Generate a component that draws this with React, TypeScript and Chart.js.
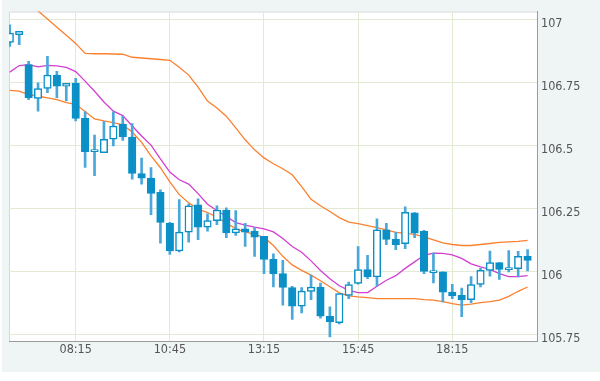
import React, { useEffect, useRef } from 'react';
import { Chart, registerables } from 'chart.js';
Chart.register(...registerables);

const times = ['06:30','06:45','07:00','07:15','07:30','07:45','08:00','08:15','08:30','08:45','09:00','09:15','09:30','09:45','10:00','10:15','10:30','10:45','11:00','11:15','11:30','11:45','12:00','12:15','12:30','12:45','13:00','13:15','13:30','13:45','14:00','14:15','14:30','14:45','15:00','15:15','15:30','15:45','16:00','16:15','16:30','16:45','17:00','17:15','17:30','17:45','18:00','18:15','18:30','18:45','19:00','19:15','19:30','19:45','20:00','20:15'];

const opens = [106.910,106.941,106.822,106.687,106.727,106.780,106.736,106.747,106.608,106.476,106.472,106.525,106.585,106.534,106.389,106.371,106.314,106.191,106.081,106.156,106.265,106.176,106.202,106.244,106.153,106.169,106.160,106.139,106.048,105.991,105.936,105.862,105.921,105.938,105.822,105.796,105.905,105.952,106.007,105.978,106.165,106.127,106.110,106.233,106.159,105.995,105.998,105.918,105.905,105.888,105.948,106.004,106.035,106.007,106.011,106.060];
const highs = [106.980,106.954,106.835,106.749,106.855,106.795,106.747,106.767,106.634,106.542,106.595,106.634,106.617,106.587,106.450,106.413,106.324,106.195,106.285,106.268,106.288,106.229,106.261,106.253,106.242,106.191,106.174,106.139,106.070,106.044,105.941,105.936,105.985,105.954,105.859,105.912,105.958,106.099,106.064,106.209,106.191,106.156,106.257,106.234,106.163,106.073,105.998,105.949,105.934,105.979,106.012,106.081,106.035,106.083,106.080,106.087];
const lows = [106.894,106.901,106.682,106.637,106.710,106.690,106.677,106.598,106.413,106.380,106.472,106.499,106.521,106.367,106.347,106.225,106.112,106.068,106.077,106.116,106.126,106.160,106.186,106.134,106.143,106.099,106.060,105.991,105.938,105.866,105.809,105.835,105.888,105.814,105.740,105.791,105.892,105.949,105.971,105.941,106.106,106.086,106.090,106.134,105.991,105.954,105.879,105.892,105.820,105.876,105.938,105.981,105.968,105.998,105.978,106.002];
const closes = [106.947,106.954,106.690,106.727,106.780,106.736,106.747,106.608,106.476,106.478,106.525,106.578,106.534,106.389,106.371,106.310,106.195,106.081,106.156,106.261,106.176,106.202,106.244,106.153,106.169,106.156,106.136,106.048,105.991,105.936,105.862,105.922,105.938,105.822,105.800,105.912,105.948,106.007,105.978,106.165,106.127,106.106,106.235,106.152,106.000,106.002,105.918,105.903,105.888,105.948,106.004,106.035,106.008,106.015,106.060,106.044];

const upperBand = [107.132,107.100,107.068,107.035,107.003,106.970,106.938,106.906,106.866,106.865,106.865,106.864,106.863,106.851,106.848,106.845,106.842,106.839,106.811,106.780,106.732,106.677,106.649,106.617,106.570,106.523,106.483,106.451,106.428,106.408,106.384,106.337,106.287,106.261,106.238,106.214,106.196,106.190,106.182,106.174,106.165,106.155,106.151,106.147,106.137,106.125,106.113,106.107,106.103,106.103,106.107,106.111,106.115,106.117,106.119,106.123];
const middleBand = [106.792,106.818,106.822,106.813,106.819,106.817,106.811,106.794,106.756,106.716,106.673,106.637,106.619,106.578,106.538,106.502,106.447,106.395,106.364,106.347,106.309,106.267,106.242,106.218,106.194,106.184,106.176,106.169,106.157,106.131,106.099,106.076,106.042,106.004,105.971,105.943,105.925,105.916,105.916,105.941,105.965,105.983,106.012,106.038,106.064,106.073,106.072,106.066,106.052,106.030,106.018,106.008,105.991,105.979,105.979,105.983];
const lowerBand = [106.719,106.716,106.703,106.697,106.690,106.683,106.671,106.664,106.635,106.606,106.598,106.591,106.582,106.554,106.513,106.459,106.412,106.356,106.305,106.273,106.248,106.234,106.216,106.192,106.170,106.157,106.147,106.135,106.103,106.060,106.026,106.004,105.985,105.963,105.939,105.915,105.903,105.899,105.896,105.892,105.892,105.892,105.892,105.892,105.888,105.886,105.880,105.872,105.866,105.870,105.876,105.880,105.886,105.901,105.921,105.938];

const yTicks = [105.75, 106, 106.25, 106.5, 106.75, 107];
const xTickLabels = ['08:15', '10:45', '13:15', '15:45', '18:15'];

const BLUE = '#0a90c7';
const WICK = '#4aa7da';
const ORANGE = '#fb8030';
const MAGENTA = '#d23fd2';
const GRID = '#e3ead3';
const FONT = { family: "'DejaVu Sans Condensed', 'DejaVu Sans', sans-serif", size: 12.5 };

export default function App() {
  const ref = useRef<HTMLCanvasElement>(null);
  useEffect(() => {
    const canvas = ref.current;
    if (!canvas) return;
    const xTickPos = xTickLabels.map((l) => times.indexOf(l));
    const bodyBg = times.map((_, i) => (closes[i] >= opens[i] ? '#ffffff' : BLUE));
    const frame = {
      id: 'frame',
      beforeDraw(chart: any) {
        const { ctx, chartArea: a } = chart;
        ctx.save();
        ctx.fillStyle = '#ffffff';
        ctx.fillRect(a.left, a.top, a.right - a.left, a.bottom - a.top);
        ctx.strokeStyle = '#d3d8d9';
        ctx.lineWidth = 1;
        ctx.beginPath();
        ctx.moveTo(a.left + 0.5, a.bottom);
        ctx.lineTo(a.left + 0.5, a.top + 0.5);
        ctx.lineTo(a.right, a.top + 0.5);
        ctx.stroke();
        ctx.restore();
      },
    };
    const chart = new Chart(canvas, {
      type: 'bar',
      data: {
        datasets: [
          {
            type: 'bar',
            label: 'body',
            data: times.map((_, i) => ({ x: i, y: [opens[i], closes[i]] })) as any,
            backgroundColor: bodyBg,
            borderColor: BLUE,
            borderWidth: 1.5,
            borderSkipped: false,
            barThickness: 7.5,
            minBarLength: 2,
            grouped: false,
            order: 0,
          } as any,
          {
            type: 'bar',
            label: 'wick',
            data: times.map((_, i) => ({ x: i, y: [lows[i], highs[i]] })) as any,
            backgroundColor: WICK,
            borderWidth: 0,
            barThickness: 2,
            grouped: false,
            order: 1,
          } as any,
          {
            type: 'line',
            label: 'upper',
            data: upperBand.map((v, i) => ({ x: i, y: v })),
            borderColor: ORANGE,
            borderWidth: 1.3,
            pointRadius: 0,
            tension: 0,
            clip: 0,
            order: 2,
          } as any,
          {
            type: 'line',
            label: 'middle',
            data: middleBand.map((v, i) => ({ x: i, y: v })),
            borderColor: MAGENTA,
            borderWidth: 1.3,
            pointRadius: 0,
            tension: 0,
            clip: 0,
            order: 2,
          } as any,
          {
            type: 'line',
            label: 'lower',
            data: lowerBand.map((v, i) => ({ x: i, y: v })),
            borderColor: ORANGE,
            borderWidth: 1.3,
            pointRadius: 0,
            tension: 0,
            clip: 0,
            order: 2,
          } as any,
        ],
      },
      options: {
        responsive: false,
        animation: false,
        layout: { padding: { left: 9, top: 10, right: 0, bottom: 0 } },
        plugins: { legend: { display: false }, tooltip: { enabled: false } },
        scales: {
          x: {
            type: 'linear',
            min: -0.085,
            max: 56.0,
            offset: false,
            grid: { offset: false, color: GRID, drawTicks: false },
            border: { display: true, color: '#9b9b9b' },
            afterBuildTicks: (s: any) => {
              s.ticks = xTickPos.map((v) => ({ value: v }));
            },
            afterFit: (s: any) => {
              s.height = 40;
            },
            ticks: {
              autoSkip: false,
              maxRotation: 0,
              padding: 1,
              color: '#555555',
              font: FONT,
              callback: (_v: any, idx: number) => xTickLabels[idx],
            },
          },
          y: {
            type: 'linear',
            position: 'right',
            min: 105.7235,
            max: 107.0328,
            grid: { color: GRID, drawTicks: false },
            border: { display: true, color: '#9b9b9b' },
            afterBuildTicks: (s: any) => {
              s.ticks = yTicks.map((v) => ({ value: v }));
            },
            afterFit: (s: any) => {
              s.width = 63;
            },
            ticks: {
              padding: 4,
              labelOffset: 4,
              color: '#555555',
              font: FONT,
              callback: (v: any) => String(v),
            },
          },
        },
      } as any,
      plugins: [frame],
    });
    return () => chart.destroy();
  }, []);

  return (
    <div style={{ position: 'fixed', left: 0, top: 0, width: 600, height: 381, background: '#ffffff' }}>
      <div style={{ position: 'absolute', left: 2, top: 0, width: 598, height: 372, background: '#eff4f5' }} />
      <canvas ref={ref} width={600} height={381} style={{ position: 'absolute', left: 0, top: 0, width: 600, height: 381 }} />
    </div>
  );
}
